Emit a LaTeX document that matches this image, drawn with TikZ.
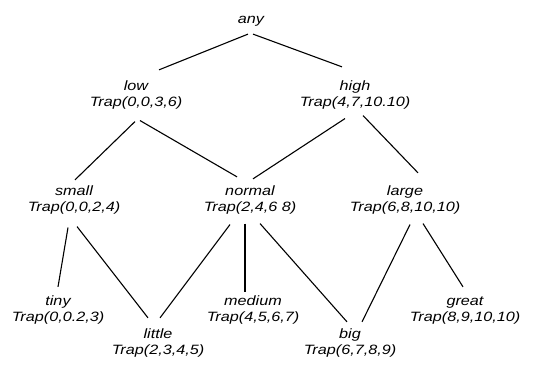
\documentclass[tikz,border=0pt]{standalone}
\usepackage{fontspec}
\newfontfamily\labfont{Liberation Sans}[FakeStretch=1.2]
\begin{document}
\begin{tikzpicture}[x=1pt,y=-1pt,
  lab/.style={inner sep=0pt, align=center, font={\labfont\itshape\fontsize{13.5}{16.5}\selectfont}},
  edge/.style={line width=1.1pt, black}]
\useasboundingbox (0,0) rectangle (537,365);
\node[lab] (any)    at (251,19.5)  {\rule{0pt}{10pt}any};
\node[lab] (low)    at (136,94.7)  {\rule{0pt}{10pt}low\\Trap(0,0,3,6)};
\node[lab] (high)   at (355,94.7)  {\rule{0pt}{10pt}high\\Trap(4,7,10.10)};
\node[lab] (small)  at (74,199.7)  {\rule{0pt}{10pt}small\\Trap(0,0,2,4)};
\node[lab] (normal) at (250,199.7) {\rule{0pt}{10pt}normal\\Trap(2,4,6 8)};
\node[lab] (large)  at (405,199.7) {\rule{0pt}{10pt}large\\Trap(6,8,10,10)};
\node[lab] (tiny)   at (58,309.7)  {\rule{0pt}{10pt}tiny\\Trap(0,0.2,3)};
\node[lab] (medium) at (253,309.7) {\rule{0pt}{10pt}medium\\Trap(4,5,6,7)};
\node[lab] (great)  at (465,309.7) {\rule{0pt}{10pt}great\\Trap(8,9,10,10)};
\node[lab] (little) at (158,342.7) {\rule{0pt}{10pt}little\\Trap(2,3,4,5)};
\node[lab] (big)    at (350,342.7) {\rule{0pt}{10pt}big\\Trap(6,7,8,9)};
\draw[edge] ([xshift=-3pt,yshift=-8pt]any.south) -- ([xshift=23pt,yshift=10pt]low.north);
\draw[edge] ([xshift=2pt,yshift=-8pt]any.south) -- ([xshift=-13pt,yshift=13pt]high.north);
\draw[edge] ([xshift=-1pt,yshift=-12pt]low.south) -- ([xshift=1pt,yshift=5pt]small.north);
\draw[edge] ([xshift=4pt,yshift=-11pt]low.south) -- ([xshift=-13pt,yshift=8pt]normal.north);
\draw[edge] ([xshift=-10pt,yshift=-9pt]high.south) -- ([xshift=3pt,yshift=6pt]normal.north);
\draw[edge] ([xshift=8pt,yshift=-6pt]high.south) -- ([xshift=13pt,yshift=12pt]large.north);
\draw[edge] ([xshift=-6pt,yshift=-13pt]small.south) -- ([yshift=8pt]tiny.north);
\draw[edge] ([xshift=3pt,yshift=-12pt]small.south) -- ([xshift=-10pt,yshift=10pt]little.north);
\draw[edge] ([xshift=-20pt,yshift=-10pt]normal.south) -- ([xshift=2pt,yshift=10pt]little.north);
\draw[edge] ([xshift=-5pt,yshift=-9pt]normal.south) -- ([xshift=-8pt,yshift=3pt]medium.north);
\draw[edge] ([xshift=10pt,yshift=-9pt]normal.south) -- ([xshift=-3pt,yshift=6pt]big.north);
\draw[edge] ([xshift=5pt,yshift=-10pt]large.south) -- ([xshift=12pt,yshift=6pt]big.north);
\draw[edge] ([xshift=18pt,yshift=-9pt]large.south) -- ([xshift=-2pt,yshift=8pt]great.north);
\end{tikzpicture}
\end{document}
